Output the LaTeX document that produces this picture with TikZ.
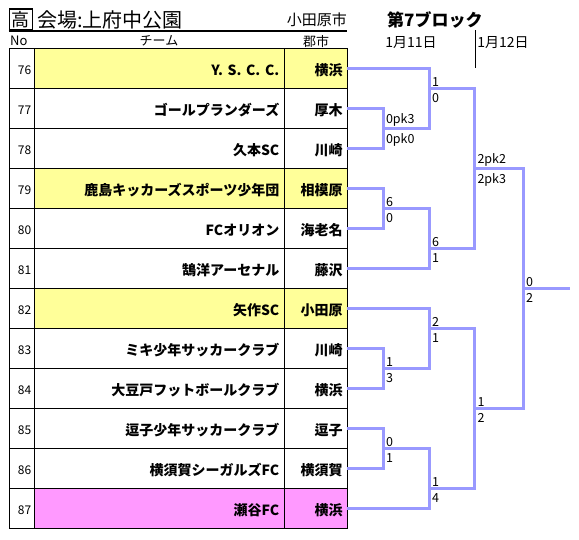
\documentclass[tikz,border=0pt]{standalone}
\usepackage{fontspec}
\setmainfont{Noto Sans CJK JP}
\usepackage{tikz}
\usetikzlibrary{positioning}
\definecolor{xlYellow}{HTML}{FFFF99}
\definecolor{xlPink}{HTML}{FF99FF}
\definecolor{xlBracket}{HTML}{9999FF}
\tikzset{
  % No. column cell
  nocell/.style={rectangle,draw=black,outer sep=0pt,
    text width=19pt,inner xsep=3pt,minimum height=40pt,
    text height=12pt,text depth=0pt,
    align=right,font=\fontsize{12}{14}\selectfont},
  % Team name cell
  teamcell/.style={rectangle,draw=black,outer sep=0pt,
    text width=240pt,inner xsep=5pt,minimum height=40pt,
    text height=14pt,text depth=0pt,
    align=right,font=\fontsize{14}{16}\selectfont\bfseries},
  % City cell
  citycell/.style={rectangle,draw=black,outer sep=0pt,
    text width=54.4pt,inner xsep=4pt,minimum height=40pt,
    text height=14pt,text depth=0pt,
    align=right,font=\fontsize{14}{16}\selectfont\bfseries},
  % Header texts
  hdr/.style={inner sep=0pt,font=\fontsize{13}{15}\selectfont},
  kobox/.style={rectangle,draw=black,line width=1.6pt,
    minimum width=23pt,minimum height=21pt,inner sep=0pt,
    font=\fontsize{18}{20}\selectfont},
  ttl/.style={inner sep=0pt,font=\fontsize{20}{22}\selectfont},
  blk/.style={inner sep=0pt,font=\fontsize{17}{19}\selectfont\bfseries},
  % Bracket lines
  br/.style={draw=xlBracket,line width=3pt},
  % Scores
  sc/.style={inner sep=1.5pt,xshift=1.3pt,font=\fontsize{12.5}{14}\selectfont},
  scA/.style={sc,anchor=south west},
  scB/.style={sc,anchor=north west,yshift=-4pt},
}
\begin{document}
\begin{tikzpicture}[x=1pt,y=-1pt]
  \useasboundingbox[fill=white] (0,0) rectangle (579,539);

  % title line
  \node[kobox] (ko) at (20.8,19.7) {高};
  \node[ttl,anchor=west] (venue) at (37,19.5) {会場:上府中公園};
  \node[hdr,font=\fontsize{15}{17}\selectfont,anchor=east] (town) at (347,20) {小田原市};
  \node[blk,anchor=west] (block) at (387,19.5) {第7ブロック};
  \draw[line width=1.2pt] (ko.south west) -- (ko.south west -| town.east);

  % column headers
  \node[hdr,anchor=west] (hno) at (10,41) {No};
  \node[hdr] (hteam) at (159,41) {チーム};
  \node[hdr] (hcity) at (316,42) {郡市};
  \node[hdr,font=\fontsize{14}{16}\selectfont] (day1) at (411,43) {1月11日};
  \node[hdr,font=\fontsize{14}{16}\selectfont] (day2) at (503,43) {1月12日};

  % table
  \node[nocell] (n76) at (21.8,68) {76};
  \node[teamcell,fill=xlYellow,right=0pt of n76] (t76) {Y. S. C. C.};
  \node[citycell,fill=xlYellow,right=0pt of t76] (c76) {横浜};

  \node[nocell,fill=white,below=0pt of n76] (n77) {77};
  \node[teamcell,fill=white,right=0pt of n77] (t77) {ゴールプランダーズ};
  \node[citycell,fill=white,right=0pt of t77] (c77) {厚木};

  \node[nocell,fill=white,below=0pt of n77] (n78) {78};
  \node[teamcell,fill=white,right=0pt of n78] (t78) {久本SC};
  \node[citycell,fill=white,right=0pt of t78] (c78) {川崎};

  \node[nocell,fill=white,below=0pt of n78] (n79) {79};
  \node[teamcell,fill=xlYellow,right=0pt of n79] (t79) {鹿島キッカーズスポーツ少年団};
  \node[citycell,fill=xlYellow,right=0pt of t79] (c79) {相模原};

  \node[nocell,fill=white,below=0pt of n79] (n80) {80};
  \node[teamcell,fill=white,right=0pt of n80] (t80) {FCオリオン};
  \node[citycell,fill=white,right=0pt of t80] (c80) {海老名};

  \node[nocell,fill=white,below=0pt of n80] (n81) {81};
  \node[teamcell,fill=white,right=0pt of n81] (t81) {鵠洋アーセナル};
  \node[citycell,fill=white,right=0pt of t81] (c81) {藤沢};

  \node[nocell,fill=white,below=0pt of n81] (n82) {82};
  \node[teamcell,fill=xlYellow,right=0pt of n82] (t82) {矢作SC};
  \node[citycell,fill=xlYellow,right=0pt of t82] (c82) {小田原};

  \node[nocell,fill=white,below=0pt of n82] (n83) {83};
  \node[teamcell,fill=white,right=0pt of n83] (t83) {ミキ少年サッカークラブ};
  \node[citycell,fill=white,right=0pt of t83] (c83) {川崎};

  \node[nocell,fill=white,below=0pt of n83] (n84) {84};
  \node[teamcell,fill=white,right=0pt of n84] (t84) {大豆戸フットボールクラブ};
  \node[citycell,fill=white,right=0pt of t84] (c84) {横浜};

  \node[nocell,fill=white,below=0pt of n84] (n85) {85};
  \node[teamcell,fill=white,right=0pt of n85] (t85) {逗子少年サッカークラブ};
  \node[citycell,fill=white,right=0pt of t85] (c85) {逗子};

  \node[nocell,fill=white,below=0pt of n85] (n86) {86};
  \node[teamcell,fill=white,right=0pt of n86] (t86) {横須賀シーガルズFC};
  \node[citycell,fill=white,right=0pt of t86] (c86) {横須賀};

  \node[nocell,fill=white,below=0pt of n86] (n87) {87};
  \node[teamcell,fill=xlPink,right=0pt of n87] (t87) {瀬谷FC};
  \node[citycell,fill=xlPink,right=0pt of t87] (c87) {横浜};

  % day separator
  \coordinate (sep) at (475,30);
  \draw[line width=1pt] (sep) -- (sep |- n76.center);

  % bracket joints
  \coordinate (q1) at (383,128);
  \coordinate (q2) at (383,208);
  \coordinate (q3) at (383,368);
  \coordinate (q4) at (383,448);
  \coordinate (s1) at (429,88);
  \coordinate (s2) at (429,248);
  \coordinate (s3) at (429,328);
  \coordinate (s4) at (429,488);
  \coordinate (u1) at (474.5,168);
  \coordinate (u2) at (474.5,408);
  \coordinate (fin) at (523,288);
  \coordinate (win) at (570,288);

  \draw[br] (c77.east) -| (q1) |- (c78.east);
  \draw[br] (c79.east) -| (q2) |- (c80.east);
  \draw[br] (c83.east) -| (q3) |- (c84.east);
  \draw[br] (c85.east) -| (q4) |- (c86.east);
  \draw[br] (c76.east) -| (s1) |- (q1);
  \draw[br] (q2) -| (s2) |- (c81.east);
  \draw[br] (c82.east) -| (s3) |- (q3);
  \draw[br] (q4) -| (s4) |- (c87.east);
  \draw[br] (s1) -| (u1) |- (s2);
  \draw[br] (s3) -| (u2) |- (s4);
  \draw[br] (u1) -| (fin) |- (u2);
  \draw[br] (fin) -- (win);

  % scores
  \node[scA] (q1a) at (q1) {0pk3};
  \node[scB] (q1b) at (q1) {0pk0};
  \node[scA] (q2a) at (q2) {6};
  \node[scB] (q2b) at (q2) {0};
  \node[scA] (q3a) at (q3) {1};
  \node[scB] (q3b) at (q3) {3};
  \node[scA] (q4a) at (q4) {0};
  \node[scB] (q4b) at (q4) {1};
  \node[scA] (s1a) at (s1) {1};
  \node[scB] (s1b) at (s1) {0};
  \node[scA] (s2a) at (s2) {6};
  \node[scB] (s2b) at (s2) {1};
  \node[scA] (s3a) at (s3) {2};
  \node[scB] (s3b) at (s3) {1};
  \node[scA] (s4a) at (s4) {1};
  \node[scB] (s4b) at (s4) {4};
  \node[scA] (u1a) at (u1) {2pk2};
  \node[scB] (u1b) at (u1) {2pk3};
  \node[scA] (u2a) at (u2) {1};
  \node[scB] (u2b) at (u2) {2};
  \node[scA] (fina) at (fin) {0};
  \node[scB] (finb) at (fin) {2};
\end{tikzpicture}
\end{document}
